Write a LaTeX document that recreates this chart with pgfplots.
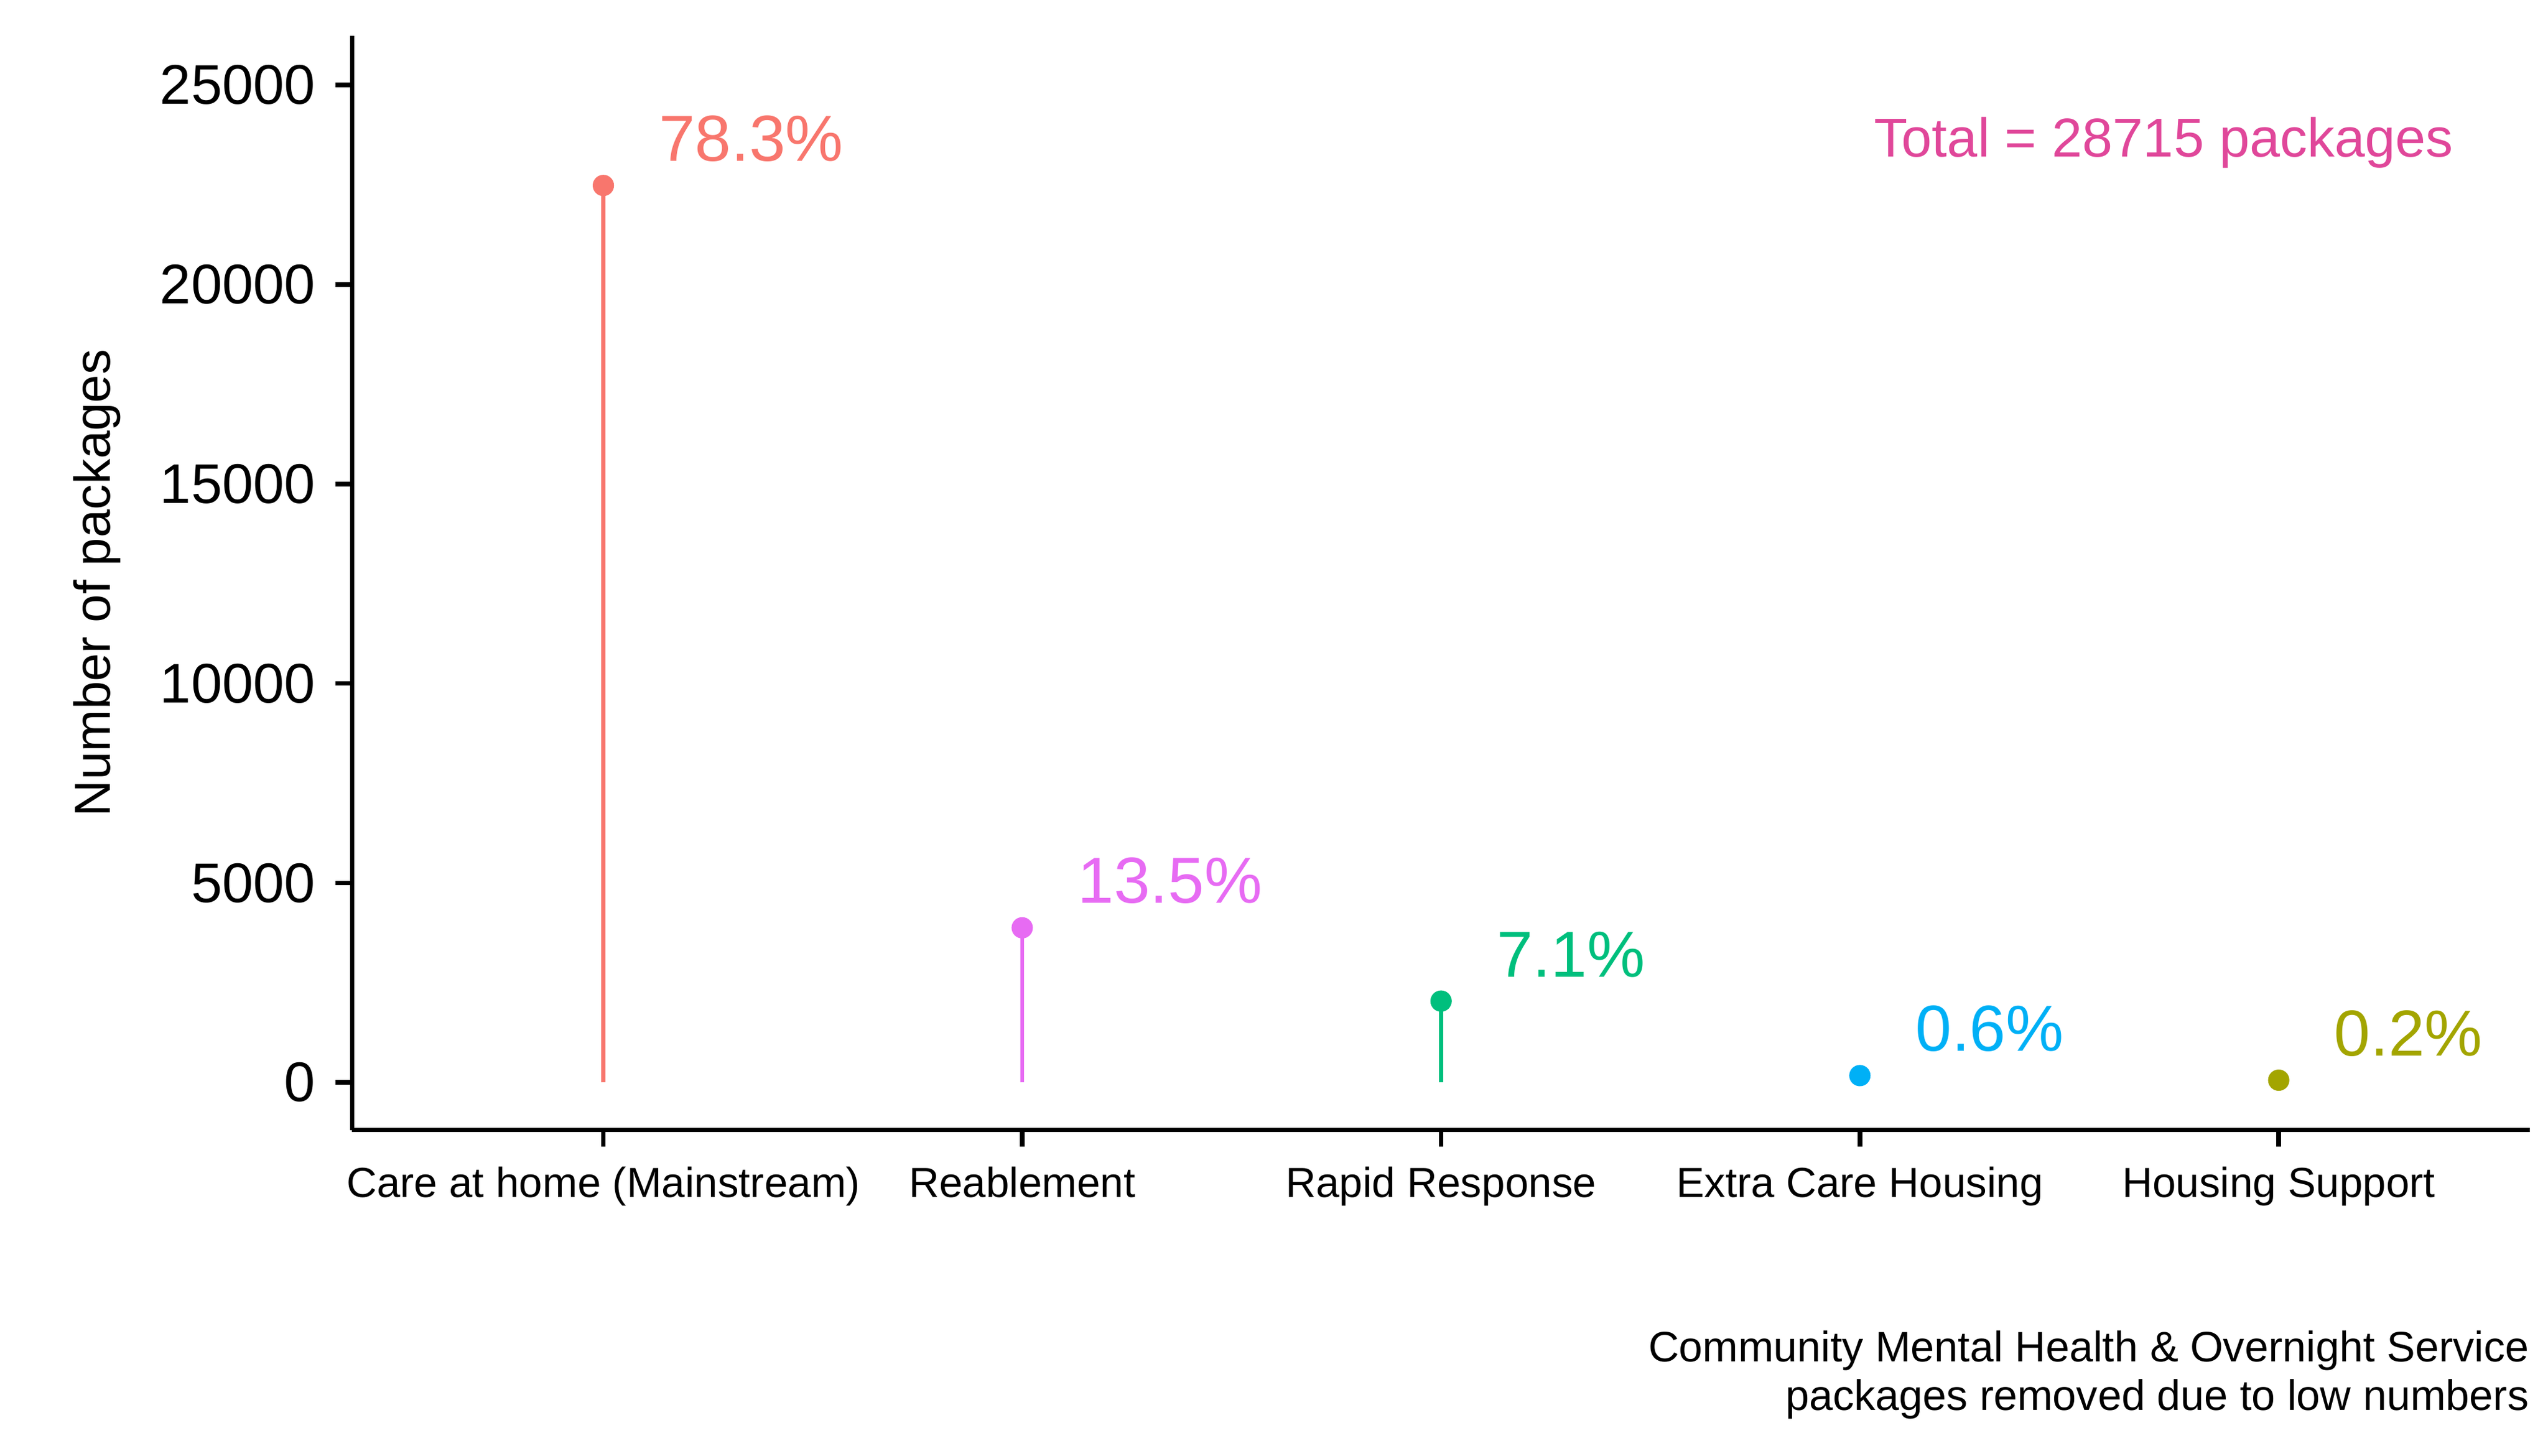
\documentclass[border=0pt]{standalone}
\usepackage{pgfplots}
\pgfplotsset{compat=1.18}
\usepackage{fontspec}
\setmainfont{Liberation Sans}
\definecolor{c1}{HTML}{F8766D}
\definecolor{c2}{HTML}{E76BF3}
\definecolor{c3}{HTML}{00BF7D}
\definecolor{c4}{HTML}{00B0F6}
\definecolor{c5}{HTML}{A3A500}
\definecolor{ct}{HTML}{E0479A}
\begin{document}
\begin{tikzpicture}
\begin{axis}[
  scale only axis, width=13.3cm, height=6.68cm,
  xmin=-0.6, xmax=4.6, ymin=-1190, ymax=26230,
  axis x line*=bottom, axis y line*=left,
  axis line style={line width=0.8pt},
  tick style={black, line width=0.8pt}, tick align=outside, major tick length=1.0mm,
  xtick={0,1,2,3,4},
  xticklabels={Care at home (Mainstream),Reablement,Rapid Response,Extra Care Housing,Housing Support},
  xticklabel style={font=\fontsize{7.3}{9}\selectfont},
  ytick={0,5000,10000,15000,20000,25000},
  yticklabel style={font=\fontsize{9.7}{11}\selectfont},
  /pgf/number format/assume math mode=true,
  scaled y ticks=false, yticklabel={\pgfmathprintnumber[1000 sep={}]{\tick}},
  ylabel={Number of packages}, ylabel style={font=\fontsize{8.8}{10}\selectfont},
  clip=false,
]
\addplot[ycomb, c1, line width=0.7pt, mark=*, mark size=1.5pt] coordinates {(0,22484)};
\addplot[ycomb, c2, line width=0.7pt, mark=*, mark size=1.5pt] coordinates {(1,3877)};
\addplot[ycomb, c3, line width=0.7pt, mark=*, mark size=1.5pt] coordinates {(2,2039)};
\addplot[ycomb, c4, line width=0.7pt, mark=*, mark size=1.5pt] coordinates {(3,172)};
\addplot[ycomb, c5, line width=0.7pt, mark=*, mark size=1.5pt] coordinates {(4,57)};
\node[c1, anchor=south west, font=\fontsize{11.3}{13}\selectfont, inner sep=0pt] at (axis cs:0.13,23050) {78.3\%};
\node[c2, anchor=south west, font=\fontsize{11.3}{13}\selectfont, inner sep=0pt] at (axis cs:1.13,4450) {13.5\%};
\node[c3, anchor=south west, font=\fontsize{11.3}{13}\selectfont, inner sep=0pt] at (axis cs:2.13,2600) {7.1\%};
\node[c4, anchor=south west, font=\fontsize{11.3}{13}\selectfont, inner sep=0pt] at (axis cs:3.13,750) {0.6\%};
\node[c5, anchor=south west, font=\fontsize{11.3}{13}\selectfont, inner sep=0pt] at (axis cs:4.13,620) {0.2\%};
\node[ct, anchor=east, font=\fontsize{9.5}{11}\selectfont, inner sep=0pt] at (axis cs:4.42,23550) {Total = 28715 packages};
\node[anchor=north east, align=right, font=\fontsize{7.4}{8.4}\selectfont, inner sep=0pt] at ([yshift=-12.2mm]rel axis cs:1,0) {Community Mental Health \& Overnight Service\\packages removed due to low numbers};
\path ([xshift=-21.5mm,yshift=-19.9mm]rel axis cs:0,0) rectangle ([xshift=1.1mm,yshift=2.2mm]rel axis cs:1,1);
\end{axis}
\end{tikzpicture}
\end{document}
